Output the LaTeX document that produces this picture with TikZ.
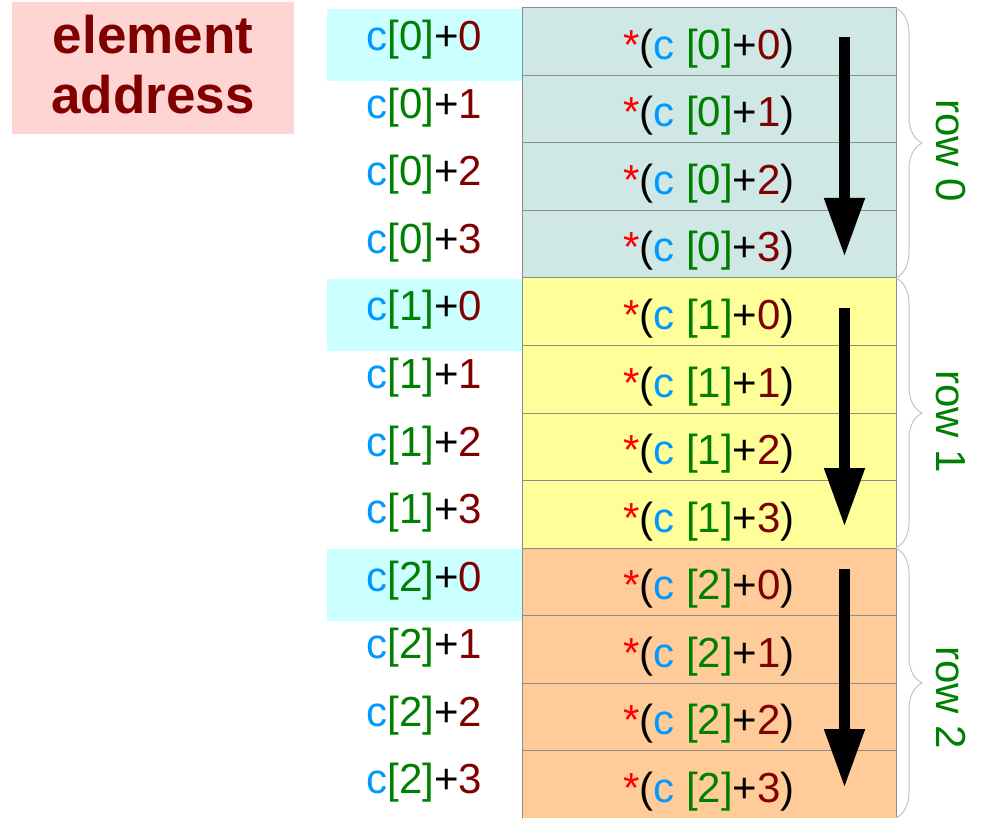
\documentclass[tikz,border=0pt]{standalone}
\usepackage{fontspec}
\setmainfont{Liberation Sans}
\usepackage{xcolor}
\usepackage{tikz}
\usetikzlibrary{positioning, arrows.meta, decorations.pathreplacing, calc}
\definecolor{addrblue}{HTML}{0099FF}
\definecolor{idxgreen}{HTML}{008000}
\definecolor{offred}{HTML}{800000}
\definecolor{starred}{HTML}{FF0000}
\definecolor{rowzero}{HTML}{CFE7E5}
\definecolor{rowone}{HTML}{FFFF99}
\definecolor{rowtwo}{HTML}{FFCC99}
\definecolor{headcyan}{HTML}{CCFFFF}
\definecolor{titlepink}{HTML}{FFD5D4}
\definecolor{gridgray}{HTML}{8C8C8C}
\definecolor{bracegray}{HTML}{C4C4C4}
\newcommand{\labelfont}{\fontsize{42}{48}\selectfont}
\newcommand{\titlefont}{\fontsize{53}{60}\selectfont\bfseries}
\newcommand{\addr}[2]{\textcolor{addrblue}{c}\textcolor{idxgreen}{[#1]}+\textcolor{offred}{#2}}
\newcommand{\deref}[2]{\textcolor{starred}{*}(\textcolor{addrblue}{c} \textcolor{idxgreen}{[#1]}+\textcolor{offred}{#2})}

\begin{document}
\begin{tikzpicture}[x=1pt, y=-1pt,
  cellbox/.style={draw=gridgray, line width=1pt, minimum width=374pt, minimum height=67.5pt,
                  inner sep=0pt, outer sep=0pt, text height=45pt, text depth=9.5pt, font=\labelfont},
  addrlabel/.style={anchor=base, inner sep=0pt, font=\labelfont},
  headbox/.style={fill=headcyan, minimum width=195pt, minimum height=72pt, inner sep=0pt},
  rowbrace/.style={draw=bracegray, line width=1pt, decorate, decoration={brace, amplitude=26pt}},
  rowlabel/.style={rotate=-90, anchor=base, inner sep=0pt, text=idxgreen, font=\labelfont},
  walk/.style={line width=11pt, -{Triangle[length=59pt, width=38pt]}}]
  \useasboundingbox (0,0) rectangle (983,818);

  % title box
  \node[fill=titlepink, minimum width=282pt, minimum height=132pt, inner sep=0pt,
        align=center, text=offred, font=\titlefont] (title) at (153,68)
        {element\\address\rule[-8pt]{0pt}{8pt}};

  % memory cells, one group of four per row
  \foreach \g/\shade/\ly in {0/rowzero/150.5, 1/rowone/422, 2/rowtwo/698} {
    \node[headbox] (head\g) at (424.5, {8+270*\g+37}) {};
    \foreach \k in {0,...,3} {
      \pgfmathsetmacro{\celltop}{8+270*\g+67.5*\k}
      \node[cellbox, fill=\shade] (cell\g\k) at (709, \celltop+33.75) {\deref{\g}{\k}};
      \node[addrlabel] (addr\g\k) at (424.5, \celltop+43) {\addr{\g}{\k}};
    }
    \draw[rowbrace] (cell\g0.north east) -- (cell\g3.south east);
    \node[rowlabel] (rowlbl\g) at (936, \ly) {row \g};
  }

  % walking direction inside each row
  \foreach \g/\ys/\ye in {0/37/257, 1/308/527, 2/569/788} {
    \coordinate (walk\g s) at (844.5,\ys);
    \coordinate (walk\g e) at (844.5,\ye);
    \draw[walk] (walk\g s) -- (walk\g e);
  }
\end{tikzpicture}
\end{document}
